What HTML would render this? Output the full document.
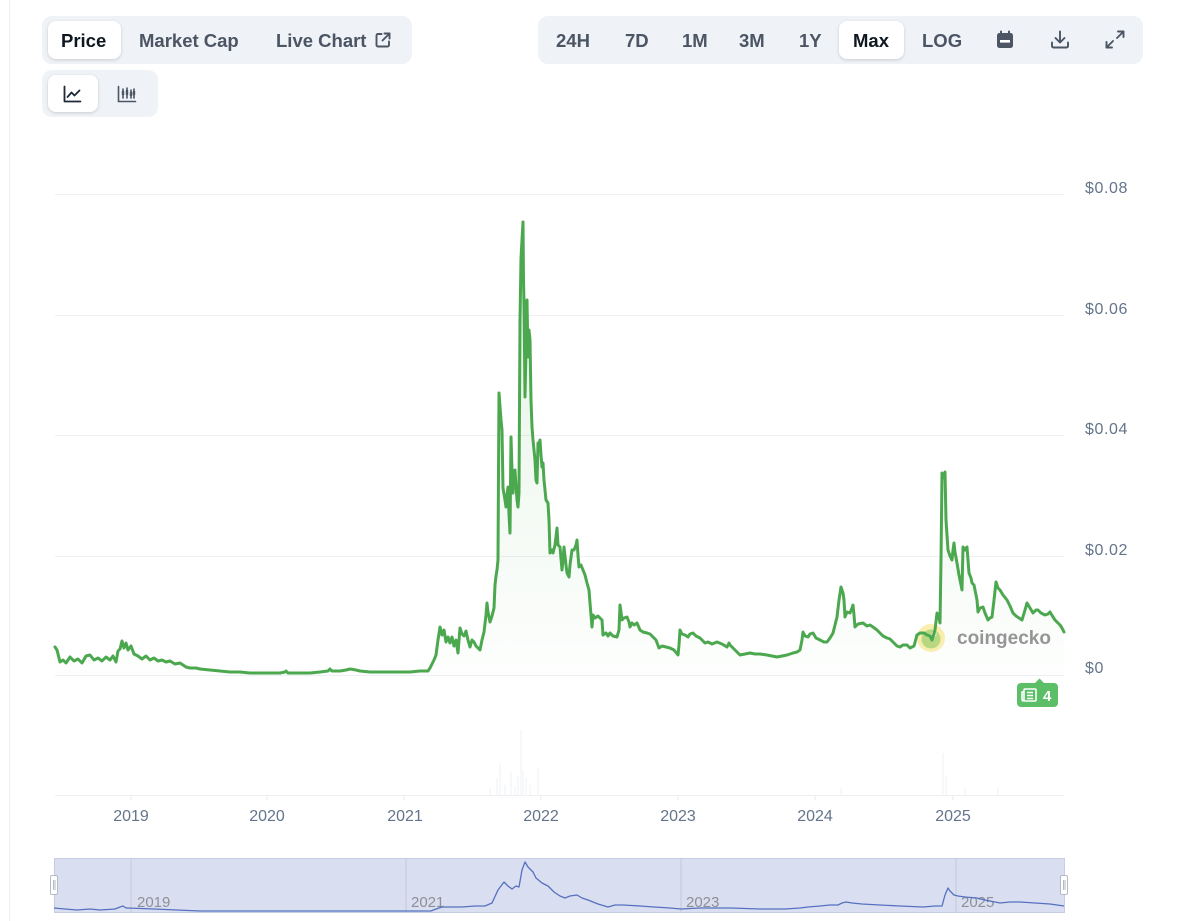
<!DOCTYPE html>
<html><head><meta charset="utf-8">
<style>
html,body{margin:0;padding:0;background:#fff;width:1200px;height:921px;overflow:hidden;font-family:"Liberation Sans",Arial,sans-serif;}
.abs{position:absolute;}
.grp{position:absolute;background:#eff2f7;border-radius:10px;}
.act{position:absolute;background:#fff;border-radius:8px;box-shadow:0 1px 3px rgba(0,0,0,0.16);}
.t{position:absolute;font-size:18.5px;font-weight:700;color:#4b5563;line-height:20px;top:31px;white-space:nowrap;}
svg.ic{position:absolute;overflow:visible;}
</style></head><body>
<svg class="abs" style="left:0;top:0" width="1200" height="921" viewBox="0 0 1200 921">
<defs>
<linearGradient id="gf" gradientUnits="userSpaceOnUse" x1="0" y1="222" x2="0" y2="676">
<stop offset="0" stop-color="#4caa50" stop-opacity="0.15"/>
<stop offset="1" stop-color="#4caa50" stop-opacity="0.01"/>
</linearGradient>
</defs>
<rect x="9" y="0" width="1" height="921" fill="#eceef2"/>
<g stroke="#eef0f4" stroke-width="1">
<line x1="55" y1="194.5" x2="1064" y2="194.5"/>
<line x1="55" y1="315.5" x2="1064" y2="315.5"/>
<line x1="55" y1="435.5" x2="1064" y2="435.5"/>
<line x1="55" y1="556.5" x2="1064" y2="556.5"/>
<line x1="55" y1="675.5" x2="1064" y2="675.5"/>
<line x1="55" y1="795.5" x2="1064" y2="795.5"/>
</g>
<g stroke="#e6e9ee" stroke-width="1">
<line x1="131" y1="795" x2="131" y2="800"/>
<line x1="267" y1="795" x2="267" y2="800"/>
<line x1="404" y1="795" x2="404" y2="800"/>
<line x1="541" y1="795" x2="541" y2="800"/>
<line x1="678" y1="795" x2="678" y2="800"/>
<line x1="815" y1="795" x2="815" y2="800"/>
<line x1="953" y1="795" x2="953" y2="800"/>
</g>
<g font-family="Liberation Sans, Arial, sans-serif" font-size="16" fill="#64748b" letter-spacing="0.6">
<text x="1085" y="193">$0.08</text>
<text x="1085" y="314">$0.06</text>
<text x="1085" y="434">$0.04</text>
<text x="1085" y="555">$0.02</text>
<text x="1085" y="673">$0</text>
</g>
<g font-family="Liberation Sans, Arial, sans-serif" font-size="16" fill="#64748b" text-anchor="middle">
<text x="131" y="821">2019</text>
<text x="267" y="821">2020</text>
<text x="405" y="821">2021</text>
<text x="541" y="821">2022</text>
<text x="678" y="821">2023</text>
<text x="815" y="821">2024</text>
<text x="953" y="821">2025</text>
</g>
<g stroke="#eef0f5" stroke-width="1">
<line x1="490" y1="795" x2="490" y2="788"/>
<line x1="497" y1="795" x2="497" y2="778"/><line x1="500" y1="795" x2="500" y2="763"/>
<line x1="505" y1="795" x2="505" y2="785"/><line x1="511" y1="795" x2="511" y2="772"/>
<line x1="515" y1="795" x2="515" y2="786"/><line x1="518" y1="795" x2="518" y2="775"/>
<line x1="521" y1="795" x2="521" y2="730"/><line x1="523" y1="795" x2="523" y2="770"/>
<line x1="526" y1="795" x2="526" y2="778"/><line x1="530" y1="795" x2="530" y2="785"/>
<line x1="538" y1="795" x2="538" y2="768"/>
<line x1="841" y1="795" x2="841" y2="788"/>
<line x1="943" y1="795" x2="943" y2="753"/><line x1="946" y1="795" x2="946" y2="775"/>
<line x1="965" y1="795" x2="965" y2="788"/><line x1="998" y1="795" x2="998" y2="787"/>
</g>
<polygon fill="url(#gf)" points="55,647 57,650 60,662 63,660 66,663 70,657 74,661 78,659 82,663 86,656 90,655 94,660 98,658 102,661 106,657 110,660 113,656 116,662 118,651 120,649 122,641 124,648 126,643 128,650 131,646 134,654 138,656 142,659 146,656 150,660 154,658 158,661 162,660 166,662 170,661 175,664 180,663 186,667 190,668 196,668 200,669 210,670 220,671 230,672 240,672 250,673 260,673 270,673 280,673 285,672 286,671 288,673 300,673 310,673 320,672 328,671 330,669 332,671 340,671 346,670 350,669 356,670 360,671 370,672 380,672 390,672 400,672 410,672 420,671 428,671 430,668 432,664 434,660 436,655 438,640 440,627 442,635 444,630 446,642 448,637 450,643 452,637 454,646 456,640 458,653 460,628 462,634 464,636 466,631 468,640 470,647 472,640 474,642 476,646 478,648 480,650 482,640 484,632 486,615 487,603 488,612 490,622 492,616 494,608 495,585 496,576 497,570 498,560 498.5,470 499,393 501,420 502,430 503,488 505,500 506,507 507,495 508,487 509,515 510,533 511,437 512,470 513,493 514,475 515,470 516,485 517,500 518,507 519,493 520,320 521,258 522,240 523,222 523.5,280 524,303 525,397 526,350 527,300 528,357 529,330 530,340 531,400 532,427 533,440 535,460 536,480 537,483 538,443 539,445 540,440 541,455 542,467 543,463 544,480 546,500 548,503 549,520 550,553 552,550 553,553 555,545 557,528 558,545 560,547 562,570 563,560 564,547 566,565 567,573 569,577 570,565 572,550 574,550 576,545 577,540 578,555 579,567 581,565 583,570 585,575 587,583 589,590 590,603 591,615 592,627 593,615 595,618 598,616 600,618 602,620 603,635 606,633 608,636 610,633 613,636 617,637 619,630 620,605 621,612 622,620 624,618 627,617 629,622 630,627 632,623 634,625 637,623 640,630 643,632 647,633 650,634 653,637 656,640 659,648 662,646 666,647 670,648 674,650 678,655 679,645 680,630 682,634 685,635 688,637 690,634 693,633 696,636 700,638 703,641 705,643 708,642 712,644 717,642 722,644 727,647 729,643 730,645 733,648 737,652 740,655 745,654 750,653 755,654 760,654 767,655 772,656 777,657 782,656 787,655 790,654 793,653 797,652 800,650 802,640 803,632 805,636 808,637 810,634 813,633 816,638 820,640 824,642 827,642 830,638 833,633 835,625 837,617 839,600 841,587 843,593 844,600 845,617 847,612 850,613 852,608 853,605 854,615 855,627 858,624 863,623 867,626 870,625 873,627 877,630 880,633 883,636 887,638 890,639 893,642 897,646 900,647 903,645 907,645 910,648 914,646 917,635 920,633 924,633 927,635 930,636 932,640 935,630 937,613 939,618 940,623 941,560 942,473 943,475 944,478 945,472 946,520 947,535 948,550 950,556 952,560 953,550 954,543 955,552 957,563 959,575 961,585 962,590 963,547 965,550 967,547 968,560 969,573 971,578 972,583 974,585 975,590 977,600 978,612 980,608 983,607 985,613 988,620 990,618 992,617 994,600 996,582 998,588 1000,590 1003,595 1007,600 1010,606 1013,613 1016,616 1019,618 1022,620 1025,610 1027,603 1030,608 1033,613 1036,610 1038,610 1041,613 1045,615 1048,614 1050,612 1053,617 1055,620 1058,623 1060,625 1062,628 1064,632 1064,676 55,676"/>
<circle cx="931" cy="638" r="14" fill="#f6e37a" fill-opacity="0.6"/>
<circle cx="931" cy="639" r="9.5" fill="#8cc863" fill-opacity="0.6"/>
<circle cx="934" cy="634" r="2.5" fill="#fff" fill-opacity="0.8"/>
<circle cx="934.5" cy="634" r="1.2" fill="#555" fill-opacity="0.7"/>
<text x="957" y="644" font-family="Liberation Sans, Arial, sans-serif" font-size="19" font-weight="700" fill="#8a8a8a" fill-opacity="0.9">coingecko</text>
<polyline fill="none" stroke="#4ca84f" stroke-width="3" stroke-linejoin="round" stroke-linecap="round" points="55,647 57,650 60,662 63,660 66,663 70,657 74,661 78,659 82,663 86,656 90,655 94,660 98,658 102,661 106,657 110,660 113,656 116,662 118,651 120,649 122,641 124,648 126,643 128,650 131,646 134,654 138,656 142,659 146,656 150,660 154,658 158,661 162,660 166,662 170,661 175,664 180,663 186,667 190,668 196,668 200,669 210,670 220,671 230,672 240,672 250,673 260,673 270,673 280,673 285,672 286,671 288,673 300,673 310,673 320,672 328,671 330,669 332,671 340,671 346,670 350,669 356,670 360,671 370,672 380,672 390,672 400,672 410,672 420,671 428,671 430,668 432,664 434,660 436,655 438,640 440,627 442,635 444,630 446,642 448,637 450,643 452,637 454,646 456,640 458,653 460,628 462,634 464,636 466,631 468,640 470,647 472,640 474,642 476,646 478,648 480,650 482,640 484,632 486,615 487,603 488,612 490,622 492,616 494,608 495,585 496,576 497,570 498,560 498.5,470 499,393 501,420 502,430 503,488 505,500 506,507 507,495 508,487 509,515 510,533 511,437 512,470 513,493 514,475 515,470 516,485 517,500 518,507 519,493 520,320 521,258 522,240 523,222 523.5,280 524,303 525,397 526,350 527,300 528,357 529,330 530,340 531,400 532,427 533,440 535,460 536,480 537,483 538,443 539,445 540,440 541,455 542,467 543,463 544,480 546,500 548,503 549,520 550,553 552,550 553,553 555,545 557,528 558,545 560,547 562,570 563,560 564,547 566,565 567,573 569,577 570,565 572,550 574,550 576,545 577,540 578,555 579,567 581,565 583,570 585,575 587,583 589,590 590,603 591,615 592,627 593,615 595,618 598,616 600,618 602,620 603,635 606,633 608,636 610,633 613,636 617,637 619,630 620,605 621,612 622,620 624,618 627,617 629,622 630,627 632,623 634,625 637,623 640,630 643,632 647,633 650,634 653,637 656,640 659,648 662,646 666,647 670,648 674,650 678,655 679,645 680,630 682,634 685,635 688,637 690,634 693,633 696,636 700,638 703,641 705,643 708,642 712,644 717,642 722,644 727,647 729,643 730,645 733,648 737,652 740,655 745,654 750,653 755,654 760,654 767,655 772,656 777,657 782,656 787,655 790,654 793,653 797,652 800,650 802,640 803,632 805,636 808,637 810,634 813,633 816,638 820,640 824,642 827,642 830,638 833,633 835,625 837,617 839,600 841,587 843,593 844,600 845,617 847,612 850,613 852,608 853,605 854,615 855,627 858,624 863,623 867,626 870,625 873,627 877,630 880,633 883,636 887,638 890,639 893,642 897,646 900,647 903,645 907,645 910,648 914,646 917,635 920,633 924,633 927,635 930,636 932,640 935,630 937,613 939,618 940,623 941,560 942,473 943,475 944,478 945,472 946,520 947,535 948,550 950,556 952,560 953,550 954,543 955,552 957,563 959,575 961,585 962,590 963,547 965,550 967,547 968,560 969,573 971,578 972,583 974,585 975,590 977,600 978,612 980,608 983,607 985,613 988,620 990,618 992,617 994,600 996,582 998,588 1000,590 1003,595 1007,600 1010,606 1013,613 1016,616 1019,618 1022,620 1025,610 1027,603 1030,608 1033,613 1036,610 1038,610 1041,613 1045,615 1048,614 1050,612 1053,617 1055,620 1058,623 1060,625 1062,628 1064,632"/>
<polygon points="1034,684 1039.5,678.5 1045,684" fill="#5cbf67"/>
<rect x="1017" y="683" width="41" height="24" rx="4" fill="#5cbf67"/>
<g fill="none" stroke="#fff" stroke-width="1.6">
<rect x="1024" y="689" width="12" height="12" rx="1"/>
<path d="M1024 692h-2v7.5a1.5 1.5 0 0 0 1.5 1.5"/>
<path d="M1027 692.5h6M1027 695.5h6M1027 698.5h6"/>
</g>
<text x="1043" y="701" font-family="Liberation Sans, Arial, sans-serif" font-size="15" font-weight="700" fill="#fff">4</text>
<rect x="54.5" y="858.5" width="1010" height="54" fill="#d9dff0" stroke="#c6cde2" stroke-width="1"/>
<g stroke="#c3c9d8" stroke-width="1">
<line x1="131" y1="859" x2="131" y2="912"/>
<line x1="406" y1="859" x2="406" y2="912"/>
<line x1="681" y1="859" x2="681" y2="912"/>
<line x1="956" y1="859" x2="956" y2="912"/>
</g>
<g font-family="Liberation Sans, Arial, sans-serif" font-size="15" fill="#8e9097">
<text x="137" y="907">2019</text>
<text x="411" y="907">2021</text>
<text x="686" y="907">2023</text>
<text x="961" y="907">2025</text>
</g>
<polyline fill="none" stroke="#5670c0" stroke-width="1.3" stroke-linejoin="round" points="54,908 65,909 77,910 90,909 100,910 115,909 120,907 123,906 126,908 154,909 200,911 308,911 431,911 436,909 442,907 462,907 475,906 485,906 492,903 498,890 504,882 508,886 512,889 516,886 519,887 522,870 525,862 528,867 533,872 536,878 542,883 548,886 554,892 560,896 565,898 570,896 577,895 582,898 588,900 598,904 608,907 615,905 623,905 640,906 654,907 670,908 681,909 700,908 731,908 760,909 785,909 800,908 808,907 820,906 830,905 838,905 842,903 846,902 852,903 862,904 880,905 900,906 923,907 935,906 942,906 945,895 948,888 950,891 954,895 958,896 965,897 977,898 985,900 1000,903 1010,902 1020,902 1035,903 1050,904 1064,906"/>
<g>
<rect x="50.5" y="875.5" width="7" height="19" rx="1.5" fill="#fff" stroke="#b5bac6"/>
<line x1="53.5" y1="880" x2="53.5" y2="890" stroke="#b5bac6"/>
<line x1="55" y1="880" x2="55" y2="890" stroke="#b5bac6"/>
<rect x="1060.5" y="875.5" width="7" height="19" rx="1.5" fill="#fff" stroke="#b5bac6"/>
<line x1="1063.5" y1="880" x2="1063.5" y2="890" stroke="#b5bac6"/>
<line x1="1065" y1="880" x2="1065" y2="890" stroke="#b5bac6"/>
</g>
</svg>

<div class="grp" style="left:42px;top:16px;width:370px;height:48px"></div>
<div class="act" style="left:48px;top:21px;width:73px;height:38px"></div>
<span class="t" style="left:61px;color:#0f1720">Price</span>
<span class="t" style="left:139px">Market Cap</span>
<span class="t" style="left:276px">Live Chart</span>
<svg class="ic" style="left:374px;top:31px" width="18" height="18" viewBox="0 0 18 18" fill="none" stroke="#4b5563" stroke-width="1.9" stroke-linecap="round" stroke-linejoin="round">
<path d="M7.5 3H4a1.5 1.5 0 0 0-1.5 1.5v9.5A1.5 1.5 0 0 0 4 15.5h9.5A1.5 1.5 0 0 0 15 14v-3.5"/>
<path d="M10.5 2.5h5v5"/><path d="M15.5 2.5L8.5 9.5"/>
</svg>

<div class="grp" style="left:538px;top:16px;width:605px;height:48px"></div>
<div class="act" style="left:839px;top:21px;width:65px;height:38px"></div>
<span class="t" style="left:556px">24H</span>
<span class="t" style="left:625px">7D</span>
<span class="t" style="left:682px">1M</span>
<span class="t" style="left:739px">3M</span>
<span class="t" style="left:799px">1Y</span>
<span class="t" style="left:853px;color:#0f1720">Max</span>
<span class="t" style="left:922px">LOG</span>
<svg class="ic" style="left:996px;top:30px" width="18" height="19" viewBox="0 0 18 19">
<rect x="1" y="3" width="16" height="15" rx="2.5" fill="#4b5563"/>
<rect x="4" y="0.5" width="2" height="4.5" rx="1" fill="#4b5563"/>
<rect x="12" y="0.5" width="2" height="4.5" rx="1" fill="#4b5563"/>
<rect x="4" y="10" width="10" height="2.6" fill="#fff"/>
</svg>
<svg class="ic" style="left:1050px;top:30px" width="20" height="19" viewBox="0 0 20 19" fill="none" stroke="#4b5563" stroke-width="1.9" stroke-linecap="round" stroke-linejoin="round">
<path d="M10 1.5v10.5"/><path d="M5.5 8l4.5 4.5L14.5 8"/>
<path d="M2 12.5v3.5a1.5 1.5 0 0 0 1.5 1.5h13a1.5 1.5 0 0 0 1.5-1.5v-3.5"/>
</svg>
<svg class="ic" style="left:1105px;top:30px" width="20" height="19" viewBox="0 0 20 19" fill="none" stroke="#4b5563" stroke-width="1.9" stroke-linecap="round" stroke-linejoin="round">
<path d="M13 1.5h5.5V7"/><path d="M18.5 1.5L12 8"/>
<path d="M1.5 12v5.5H7"/><path d="M1.5 17.5L8 11"/>
</svg>

<div class="grp" style="left:42px;top:70px;width:116px;height:47px"></div>
<div class="act" style="left:48px;top:75px;width:50px;height:37px"></div>
<svg class="ic" style="left:63px;top:85px" width="19" height="18" viewBox="0 0 19 18" fill="none" stroke="#1f2937" stroke-width="1.8" stroke-linecap="round" stroke-linejoin="round">
<path d="M1.5 1.5v15h16"/><path d="M4.5 12l4-4.5 3 3 5-5"/>
</svg>
<svg class="ic" style="left:117px;top:85px" width="20" height="18" viewBox="0 0 20 18" fill="none" stroke="#4b5563" stroke-width="1.6" stroke-linecap="round">
<path d="M1.5 1.5v15h17"/>
<path d="M6 4v9M10 3v10M14 5v8M17 4v9"/>
<rect x="4.8" y="6" width="2.4" height="4" fill="#4b5563" stroke="none"/>
<rect x="8.8" y="5" width="2.4" height="5" fill="#4b5563" stroke="none"/>
<rect x="12.8" y="7" width="2.4" height="4" fill="#4b5563" stroke="none"/>
<rect x="15.8" y="6" width="2.4" height="4" fill="#4b5563" stroke="none"/>
</svg>
</body></html>
